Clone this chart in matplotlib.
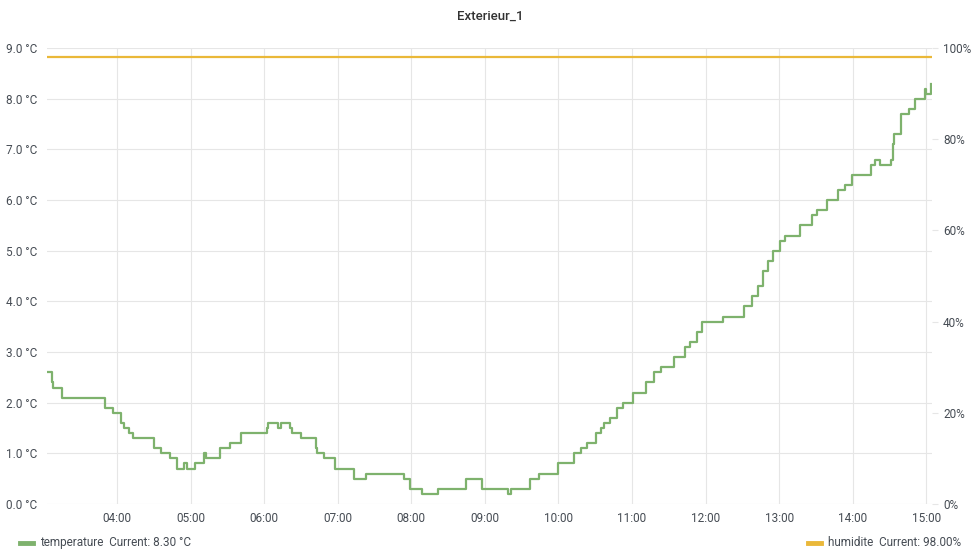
import matplotlib
matplotlib.use("Agg")
import matplotlib.pyplot as plt
from matplotlib.ticker import FuncFormatter, MultipleLocator

# temperature steps (time of change, value in degC)
temp_times = ["03:03", "03:07", "03:08", "03:15", "03:50", "03:57", "04:03", "04:06",
              "04:10", "04:13", "04:30", "04:36", "04:43", "04:49", "04:55", "04:57",
              "05:04", "05:11", "05:13", "05:24", "05:32", "05:41", "06:02", "06:03",
              "06:11", "06:14", "06:21", "06:23", "06:30", "06:42", "06:43", "06:49",
              "06:58", "07:13", "07:23", "07:54", "07:59", "08:09", "08:22", "08:45",
              "08:58", "09:19", "09:21", "09:37", "09:44", "10:00", "10:13", "10:18",
              "10:23", "10:31", "10:35", "10:37", "10:42", "10:48", "10:53", "11:01",
              "11:11", "11:18", "11:24", "11:34", "11:43", "11:47", "11:53", "11:57",
              "12:14", "12:31", "12:38", "12:43", "12:47", "12:51", "12:55", "13:01",
              "13:05", "13:17", "13:27", "13:31", "13:39", "13:48", "13:54", "13:59",
              "14:15", "14:18", "14:22", "14:31", "14:33", "14:34", "14:39", "14:46",
              "14:51", "14:59", "15:00", "15:04"]
temp_values = [2.6, 2.4, 2.3, 2.1, 1.9, 1.8, 1.6, 1.5,
               1.4, 1.3, 1.1, 1.0, 0.9, 0.7, 0.8, 0.7,
               0.8, 1.0, 0.9, 1.1, 1.2, 1.4, 1.5, 1.6,
               1.5, 1.6, 1.5, 1.4, 1.3, 1.1, 1.0, 0.9,
               0.7, 0.5, 0.6, 0.5, 0.3, 0.2, 0.3, 0.5,
               0.3, 0.2, 0.3, 0.5, 0.6, 0.8, 1.0, 1.1,
               1.2, 1.4, 1.5, 1.6, 1.7, 1.9, 2.0, 2.2,
               2.4, 2.6, 2.7, 2.9, 3.1, 3.2, 3.4, 3.6,
               3.7, 3.9, 4.1, 4.3, 4.6, 4.8, 5.0, 5.2,
               5.3, 5.5, 5.7, 5.8, 6.0, 6.2, 6.3, 6.5,
               6.7, 6.8, 6.7, 6.8, 7.1, 7.3, 7.7, 7.8,
               8.0, 8.2, 8.1, 8.3]

hum_times = ["03:03", "15:04"]
hum_values = [98.0, 98.0]

hour_ticks = ["04:00", "05:00", "06:00", "07:00", "08:00", "09:00",
              "10:00", "11:00", "12:00", "13:00", "14:00", "15:00"]


def to_hours(s):
    h, m = s.split(":")
    return int(h) + int(m) / 60.0


plt.rcParams['font.family'] = ['Roboto', 'DejaVu Sans']
text_col = "#464c54"
grid_col = "#e6e6e6"
green = "#7eb26d"
yellow = "#eab839"

fig = plt.figure(figsize=(9.8, 5.6), dpi=100)
ax = fig.add_axes([0.048, 0.1, 0.903, 0.814])
ax2 = ax.twinx()

tx = [to_hours(t) for t in temp_times]
ax.plot(tx, temp_values, drawstyle="steps-post", color=green, lw=1.6, zorder=3)
ax2.plot([to_hours(t) for t in hum_times], hum_values, color=yellow, lw=1.6)

ax.set_xlim(to_hours("03:03"), to_hours("15:04") + 0.01)
ax.set_ylim(0, 9)
ax2.set_ylim(0, 100)

ax.set_xticks([to_hours(t) for t in hour_ticks])
ax.set_xticklabels(hour_ticks)
ax.yaxis.set_major_locator(MultipleLocator(1))
ax.yaxis.set_major_formatter(FuncFormatter(lambda v, p: f"{v:.1f} °C"))
ax2.set_yticks([0, 20, 40, 60, 80, 100])
ax2.yaxis.set_major_formatter(FuncFormatter(lambda v, p: f"{v:.0f}%"))

ax.grid(True, color=grid_col, lw=0.8)
ax.set_axisbelow(True)
for a in (ax, ax2):
    for sp in a.spines.values():
        sp.set_visible(False)
ax.tick_params(axis="both", length=0, labelsize=8.5, labelcolor=text_col, pad=6)
ax.tick_params(axis="y", pad=7)
ax2.tick_params(axis="y", length=4, color=grid_col, labelsize=8.5,
                labelcolor=text_col, pad=4)

fig.text(0.5, 0.971, "Exterieur_1", ha="center", va="center",
         fontsize=9.5, fontweight="medium", color="#333333")

# legend
fig.lines.append(plt.Line2D([0.020, 0.034], [0.031, 0.031], color=green, lw=3.5,
                            transform=fig.transFigure))
fig.text(0.041, 0.031, "temperature  Current: 8.30 °C", va="center",
         fontsize=8.5, color=text_col)
fig.lines.append(plt.Line2D([0.824, 0.838], [0.031, 0.031], color=yellow, lw=3.5,
                            transform=fig.transFigure))
fig.text(0.845, 0.031, "humidite  Current: 98.00%", va="center",
         fontsize=8.5, color=text_col)

fig.savefig("out.png", dpi=100)
